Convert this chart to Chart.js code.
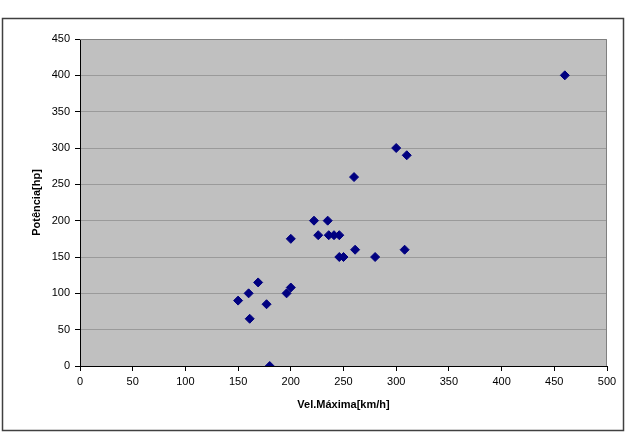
<!DOCTYPE html>
<html>
<head>
<meta charset="utf-8">
<script src="https://cdn.jsdelivr.net/npm/chart.js@4"></script>
<style>
  body { margin: 0; background: #fff; }
</style>
</head>
<body>
<canvas id="chart" width="643" height="442"></canvas>
<script>
"use strict";

// Vel.Máxima [km/h] e Potência [hp]
const velMaxima = [150, 160, 161, 169, 177, 180, 196, 200, 200, 222, 226, 235,
                   236, 241, 246, 246, 250, 260, 261, 280, 300, 310, 308, 460];
const potencia  = [90, 100, 65, 115, 85, 0, 100, 108, 175, 200, 180, 200,
                   180, 180, 180, 150, 150, 260, 160, 150, 300, 290, 160, 400];

const xTicks = [0, 50, 100, 150, 200, 250, 300, 350, 400, 450, 500];
const yTicks = [0, 50, 100, 150, 200, 250, 300, 350, 400, 450];

const points = velMaxima.map((v, i) => ({ x: v, y: potencia[i] }));

const fontFamily = "'Liberation Sans', Arial, sans-serif";

// fundo cinza da área do gráfico + moldura externa
const moldura = {
    id: 'moldura',
    beforeDraw(chart) {
        const { ctx, chartArea: a } = chart;
        ctx.save();
        ctx.fillStyle = '#c0c0c0';
        ctx.fillRect(a.left, a.top, a.right - a.left, a.bottom - a.top);
        ctx.restore();
    },
    afterDraw(chart) {
        const { ctx, chartArea: a } = chart;
        ctx.save();
        ctx.strokeStyle = '#808080';
        ctx.lineWidth = 1;
        ctx.beginPath();
        ctx.moveTo(a.left, a.top + 0.5);
        ctx.lineTo(a.right - 0.5, a.top + 0.5);
        ctx.lineTo(a.right - 0.5, a.bottom);
        ctx.stroke();
        ctx.strokeStyle = '#404040';
        ctx.lineWidth = 1.5;
        ctx.strokeRect(2.5, 18.5, 621, 412);
        ctx.restore();
    }
};

new Chart(document.getElementById('chart'), {
    type: 'scatter',
    data: {
        datasets: [{
            data: points,
            pointStyle: 'rectRot',
            pointRadius: 4.5,
            pointHoverRadius: 4.5,
            backgroundColor: '#000080',
            borderColor: '#000080',
            borderWidth: 1
        }]
    },
    options: {
        responsive: false,
        animation: false,
        events: [],
        layout: { padding: { top: 39, right: 36, left: 0, bottom: 0 } },
        plugins: {
            legend: { display: false },
            tooltip: { enabled: false }
        },
        scales: {
            x: {
                type: 'linear',
                min: 0,
                max: 500,
                afterBuildTicks: (scale) => { scale.ticks = xTicks.map(v => ({ value: v })); },
                afterFit: (scale) => { scale.height = 76; },
                grid: { drawOnChartArea: false, tickLength: 5, tickColor: '#000' },
                border: { color: '#000', width: 1 },
                ticks: { color: '#000', padding: 4, maxRotation: 0, font: { family: fontFamily, size: 11 } },
                title: {
                    display: true,
                    text: 'Vel.Máxima[km/h]',
                    color: '#000',
                    font: { family: fontFamily, size: 11, weight: 'bold' },
                    padding: { top: 0, bottom: 30 }
                }
            },
            y: {
                type: 'linear',
                min: 0,
                max: 450,
                afterBuildTicks: (scale) => { scale.ticks = yTicks.map(v => ({ value: v })); },
                afterFit: (scale) => { scale.width = 80; },
                grid: { color: '#9a9a9a', tickLength: 5, tickColor: '#000' },
                border: { color: '#000', width: 1 },
                ticks: { color: '#000', padding: 5, font: { family: fontFamily, size: 11 } },
                title: {
                    display: true,
                    text: 'Potência[hp]',
                    color: '#000',
                    font: { family: fontFamily, size: 11, weight: 'bold' },
                    padding: { top: 30, bottom: 0 }
                }
            }
        }
    },
    plugins: [moldura]
});
</script>
</body>
</html>
